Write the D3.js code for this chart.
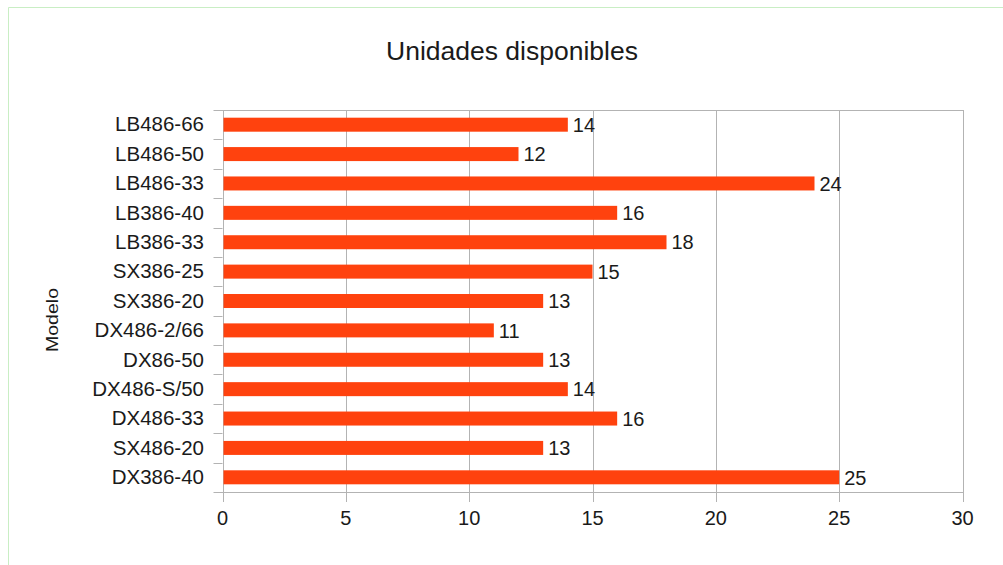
<!DOCTYPE html>
<html>
<head>
<meta charset="utf-8">
<script src="https://cdn.jsdelivr.net/npm/d3@7"></script>
<style>
    body { margin: 0; background: #fff; }
    text { font-family: "Liberation Sans", Arial, sans-serif; fill: #1a1a1a; }
</style>
</head>
<body>
<div class="chart"></div>
<script>
// categories top to bottom
let modelos = ['LB486-66', 'LB486-50', 'LB486-33', 'LB386-40', 'LB386-33', 'SX386-25', 'SX386-20',
    'DX486-2/66', 'DX86-50', 'DX486-S/50', 'DX486-33', 'SX486-20', 'DX386-40'];
let unidades = [14, 12, 24, 16, 18, 15, 13, 11, 13, 14, 16, 13, 25];
let xTicks = [0, 5, 10, 15, 20, 25, 30];
let titulo = 'Unidades disponibles';
let ejeY = 'Modelo';

let w = 1003;
let h = 565;
let pLeft = 222.5, pRight = 962.5, pTop = 110, pBottom = 492;
let grey = '#b3b3b3';
let barColor = '#ff420e';

let svg = d3.select('.chart')
    .append('svg')
    .attr('width', w)
    .attr('height', h);

// frame: only top and left edges show
svg.append('path')
    .attr('d', 'M8.5,' + h + 'V7.5H' + w)
    .attr('fill', 'none')
    .attr('stroke', '#c9eec4');

let x = d3.scaleLinear().domain([0, 30]).range([pLeft, pRight]);
let y = d3.scaleBand().domain(modelos).range([pTop, pBottom]).paddingInner(0).paddingOuter(0);

// vertical grid lines
svg.selectAll('.grid')
    .data(xTicks)
    .enter()
    .append('line')
    .attr('x1', d => Math.round(x(d)) + 0.5)
    .attr('x2', d => Math.round(x(d)) + 0.5)
    .attr('y1', pTop)
    .attr('y2', pBottom + 10)
    .attr('stroke', grey);

// top and bottom lines
[pTop, pBottom].forEach(function(yy) {
    svg.append('line')
        .attr('x1', pLeft - 9).attr('x2', pRight + 1)
        .attr('y1', Math.round(yy) + 0.5).attr('y2', Math.round(yy) + 0.5)
        .attr('stroke', grey);
});

// y tick marks at band boundaries
svg.selectAll('.ytick')
    .data(modelos.slice(1))
    .enter()
    .append('line')
    .attr('x1', pLeft - 9).attr('x2', pLeft)
    .attr('y1', d => Math.round(y(d)) + 0.5)
    .attr('y2', d => Math.round(y(d)) + 0.5)
    .attr('stroke', grey);

// bars
let bh = 14;
svg.selectAll('.bar')
    .data(unidades)
    .enter()
    .append('rect')
    .attr('x', x(0) + 1)
    .attr('y', (d, i) => y(modelos[i]) + y.bandwidth() / 2 - bh / 2)
    .attr('width', d => x(d) - x(0) - 1)
    .attr('height', bh)
    .attr('fill', barColor);

// value labels
svg.selectAll('.val')
    .data(unidades)
    .enter()
    .append('text')
    .attr('x', d => x(d) + 5)
    .attr('y', (d, i) => y(modelos[i]) + y.bandwidth() / 2)
    .attr('dy', '0.36em')
    .attr('font-size', '20px')
    .text(d => d);

// category labels
svg.selectAll('.cat')
    .data(modelos)
    .enter()
    .append('text')
    .attr('x', 204)
    .attr('y', d => y(d) + y.bandwidth() / 2)
    .attr('dy', '0.33em')
    .attr('text-anchor', 'end')
    .attr('font-size', '20.5px')
    .text(d => d);

// x tick labels
svg.selectAll('.xt')
    .data(xTicks)
    .enter()
    .append('text')
    .attr('x', d => x(d))
    .attr('y', 525)
    .attr('text-anchor', 'middle')
    .attr('font-size', '20px')
    .text(d => d);

// title
svg.append('text')
    .attr('x', 512)
    .attr('y', 60)
    .attr('text-anchor', 'middle')
    .attr('font-size', '26.5px')
    .text(titulo);

// y axis title
svg.append('text')
    .attr('transform', 'translate(58,320) rotate(-90)')
    .attr('text-anchor', 'middle')
    .attr('font-size', '16px')
    .attr('textLength', 64)
    .attr('lengthAdjust', 'spacingAndGlyphs')
    .text(ejeY);
</script>
</body>
</html>
